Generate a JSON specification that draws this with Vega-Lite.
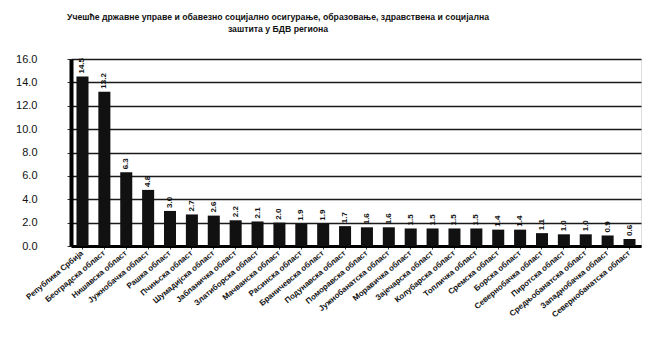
{
  "$schema": "https://vega.github.io/schema/vega-lite/v6.json",
  "width": 570,
  "height": 187,
  "autosize": {"type": "none"},
  "padding": {"left": 71, "top": 59, "right": 25, "bottom": 105},
  "background": "white",
  "title": {
    "text": ["Учешће државне управе и обавезно социјално осигурање, образовање, здравствена и социјална", "заштита у БДВ региона"],
    "font": "Liberation Sans",
    "fontSize": 8.7,
    "fontWeight": "bold",
    "color": "#111",
    "anchor": "middle",
    "frame": "group",
    "dx": -78,
    "offset": 19,
    "lineHeight": 12
  },
  "data": {
    "values": [
      {"region": "Република Србија", "value": 14.5},
      {"region": "Београдска област", "value": 13.2},
      {"region": "Нишавска област", "value": 6.3},
      {"region": "Јужнобачка област", "value": 4.8},
      {"region": "Рашка област", "value": 3.0},
      {"region": "Пчињска област", "value": 2.7},
      {"region": "Шумадијска област", "value": 2.6},
      {"region": "Јабланичка област", "value": 2.2},
      {"region": "Златиборска област", "value": 2.1},
      {"region": "Мачванска област", "value": 2.0},
      {"region": "Расинска област", "value": 1.9},
      {"region": "Браничевска област", "value": 1.9},
      {"region": "Подунавска област", "value": 1.7},
      {"region": "Поморавска област", "value": 1.6},
      {"region": "Јужнобанатска област", "value": 1.6},
      {"region": "Моравичка област", "value": 1.5},
      {"region": "Зајечарска област", "value": 1.5},
      {"region": "Колубарска област", "value": 1.5},
      {"region": "Топличка област", "value": 1.5},
      {"region": "Сремска област", "value": 1.4},
      {"region": "Борска област", "value": 1.4},
      {"region": "Севернобачка област", "value": 1.1},
      {"region": "Пиротска област", "value": 1.0},
      {"region": "Средњобанатска област", "value": 1.0},
      {"region": "Западнобачка област", "value": 0.9},
      {"region": "Севернобанатска област", "value": 0.6}
    ]
  },
  "encoding": {
    "x": {
      "field": "region",
      "type": "nominal",
      "sort": null,
      "scale": {"paddingInner": 0.45, "paddingOuter": 0.25},
      "axis": {
        "title": null,
        "labelAngle": -40,
        "labelAlign": "right",
        "labelBaseline": "middle",
        "labelFont": "Liberation Sans",
        "labelFontSize": 8,
        "labelFontWeight": "bold",
        "labelColor": "#111",
        "labelPadding": 3,
        "ticks": true,
        "tickColor": "#333",
        "tickSize": 3,
        "domainColor": "#000",
        "domainWidth": 3
      }
    },
    "y": {
      "field": "value",
      "type": "quantitative",
      "scale": {"domain": [0, 16]},
      "axis": {
        "title": null,
        "values": [0, 2, 4, 6, 8, 10, 12, 14, 16],
        "format": ".1f",
        "labelFont": "Liberation Sans",
        "labelFontSize": 11,
        "labelColor": "#111",
        "labelPadding": 30,
        "tickSize": 4,
        "tickColor": "#333",
        "domainColor": "#000",
        "domainWidth": 4,
        "grid": true,
        "gridColor": "#1a1a1a",
        "gridWidth": 1.3
      }
    }
  },
  "layer": [
    {"mark": {"type": "bar", "color": "#111"}},
    {
      "mark": {
        "type": "text",
        "angle": -90,
        "align": "left",
        "baseline": "middle",
        "dx": 3,
        "font": "Liberation Sans",
        "fontSize": 8,
        "fontWeight": "bold",
        "color": "#111"
      },
      "encoding": {
        "text": {"field": "value", "type": "quantitative", "format": ".1f"}
      }
    }
  ]
}
